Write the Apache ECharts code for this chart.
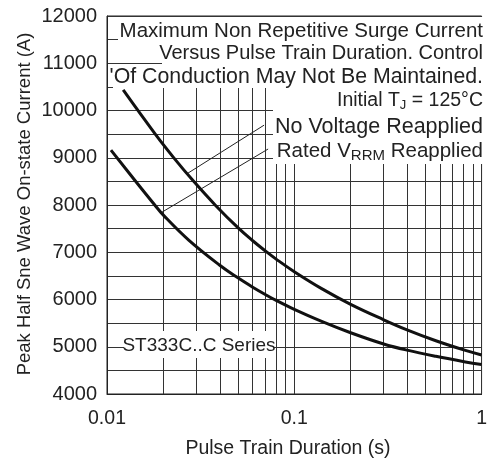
<!DOCTYPE html>
<html>
<head>
<meta charset="utf-8">
<script src="https://cdn.jsdelivr.net/npm/echarts@6/dist/echarts.min.js"></script>
<style>html,body{margin:0;padding:0;background:#fff}#c{width:490px;height:462px}</style>
</head>
<body>
<div id="c"></div>
<script>
// Data
const upperX = [0.0122, 0.0181, 0.0228, 0.0291, 0.038, 0.05, 0.06, 0.07, 0.08, 0.1, 0.14, 0.2, 0.3, 0.4, 0.57, 0.82, 1.0];
const upperY = [10434, 9500, 8993, 8495, 7991, 7520, 7243, 7029, 6855, 6588, 6230, 5897, 5571, 5358, 5127, 4922, 4827];
const lowerX = [0.0105, 0.0146, 0.0179, 0.02, 0.0274, 0.04, 0.05, 0.06, 0.07, 0.08, 0.1, 0.14, 0.2, 0.3, 0.4, 0.57, 0.82, 1.0];
const lowerY = [9160, 8445, 8011, 7785, 7251, 6725, 6458, 6260, 6106, 5981, 5792, 5537, 5297, 5059, 4928, 4797, 4679, 4623];
const xMinorGrid = [0.02, 0.03, 0.04, 0.05, 0.06, 0.07, 0.08, 0.09, 0.2, 0.3, 0.4, 0.5, 0.6, 0.7, 0.8, 0.9];
// leader lines: [from curve point] -> [label end]
const leaderNoVoltage = [[0.0268, 8664], [0.069, 9690]];
const leaderRated = [[0.0195, 7840], [0.0725, 9185]];

const xTitle = 'Pulse Train Duration (s)';
const yTitle = 'Peak Half Sne Wave On-state Current (A)';
const noteLines = ['Maximum Non Repetitive Surge Current', 'Versus Pulse Train Duration. Control', '\'Of Conduction May Not Be Maintained.'];

const FONT = 'Liberation Sans, Arial, sans-serif';
const GRID = '#333';
const chart = echarts.init(document.getElementById('c'));

const pairs = (xs, ys) => xs.map((x, i) => [x, ys[i]]);

const txt = (text, x, y, align, size) => ({
  type: 'text', z: 110, x: x, y: y,
  style: { text: text, font: size + 'px ' + FONT, fill: '#222', textAlign: align, textVerticalAlign: 'middle' }
});
const rect = (x1, y1, x2, y2) => ({ type: 'rect', z: 100, shape: { x: x1, y: y1, width: x2 - x1, height: y2 - y1 }, style: { fill: '#fff' }, silent: true });

chart.setOption({
  animation: false,
  backgroundColor: '#fff',
  grid: { left: 107, right: 4, top: 16, bottom: 68, show: true, borderColor: '#222', borderWidth: 1, backgroundColor: 'transparent' },
  xAxis: {
    type: 'log', logBase: 10, min: 0.01, max: 1,
    axisLine: { lineStyle: { color: '#222', width: 1 } },
    axisTick: { show: false },
    axisLabel: { fontSize: 19.5, fontFamily: FONT, color: '#222', margin: 15 },
    splitLine: { show: true, lineStyle: { color: GRID, width: 1 } },
    minorTick: { show: false }
  },
  yAxis: {
    type: 'value', min: 4000, max: 12000, interval: 500,
    axisLine: { show: true, lineStyle: { color: '#222', width: 1 } },
    axisTick: { show: false },
    axisLabel: { fontSize: 20, fontFamily: FONT, color: '#222', margin: 10,
      formatter: v => (v % 1000 === 0 ? String(v) : '') },
    splitLine: { show: true, lineStyle: { color: GRID, width: 1 } }
  },
  series: [
    {
      type: 'line', data: [], z: 1, silent: true,
      markLine: { silent: true, symbol: 'none', label: { show: false }, animation: false,
        lineStyle: { color: GRID, width: 1, type: 'solid' },
        data: xMinorGrid.map(v => ({ xAxis: v })) }
    },
    {
      name: 'No Voltage Reapplied', type: 'line', data: pairs(upperX, upperY), showSymbol: false, smooth: 0.4,
      lineStyle: { color: '#111', width: 3 }, z: 5,
      markLine: { silent: true, symbol: 'none', label: { show: false }, animation: false,
        lineStyle: { color: '#222', width: 1, type: 'solid' },
        data: [
          [{ coord: leaderNoVoltage[0] }, { coord: leaderNoVoltage[1] }],
          [{ coord: leaderRated[0] }, { coord: leaderRated[1] }]
        ] }
    },
    {
      name: 'Rated VRRM Reapplied', type: 'line', data: pairs(lowerX, lowerY), showSymbol: false, smooth: 0.4,
      lineStyle: { color: '#111', width: 3 }, z: 5
    }
  ],
  graphic: [
    rect(118, 17, 483.5, 52),
    rect(162, 41, 483.5, 75),
    rect(113, 64.5, 483.5, 88),
    rect(273, 87, 483.5, 164),
    rect(124, 331, 273, 358),
    txt(noteLines[0], 483, 31, 'right', 20.5),
    txt(noteLines[1], 483, 53, 'right', 20),
    txt(noteLines[2], 483, 77, 'right', 21.3),
    {
      type: 'text', z: 110, x: 483, y: 101,
      style: { text: 'Initial T{s|J} = 125°C', font: '19.5px ' + FONT, fill: '#222', textAlign: 'right', textVerticalAlign: 'middle',
        rich: { s: { fontSize: 13, fontFamily: FONT, fill: '#222', lineHeight: 13, padding: [9, 0, 0, 0] } } }
    },
    txt('No Voltage Reapplied', 483, 127, 'right', 21.5),
    {
      type: 'text', z: 110, x: 483, y: 151,
      style: { text: 'Rated V{s|RRM} Reapplied', font: '20.5px ' + FONT, fill: '#222', textAlign: 'right', textVerticalAlign: 'middle',
        rich: { s: { fontSize: 15, fontFamily: FONT, fill: '#222', lineHeight: 15, padding: [10, 0, 0, 0] } } }
    },
    txt('ST333C..C Series', 199, 346, 'center', 19),
    txt(xTitle, 288, 449, 'center', 19.5),
    { type: 'text', z: 110, x: 25, y: 204, rotation: Math.PI / 2,
      style: { text: yTitle, font: '18.5px ' + FONT, fill: '#222', textAlign: 'center', textVerticalAlign: 'middle' } }
  ]
});
</script>
</body>
</html>
